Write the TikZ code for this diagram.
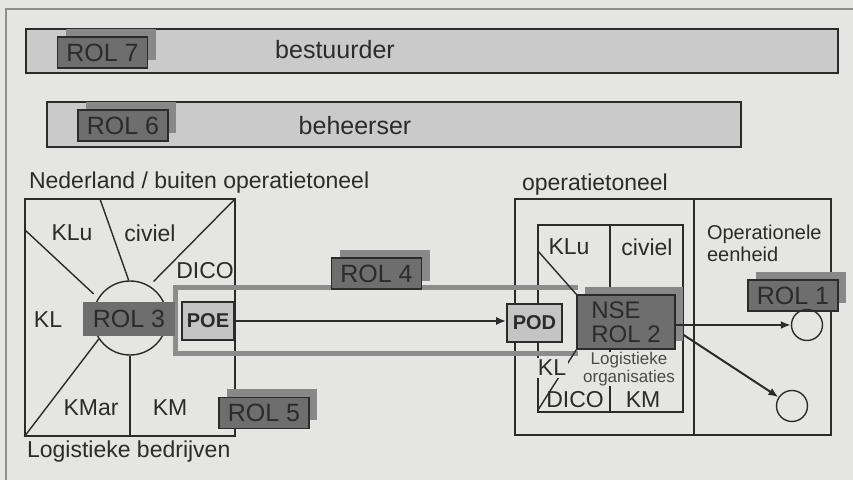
\documentclass[tikz,border=0pt]{standalone}
\usepackage{fontspec}
\setmainfont{Liberation Sans}
\usetikzlibrary{positioning, arrows.meta, calc, shadows}

\definecolor{paper}{HTML}{E5E5E3}
\definecolor{ink}{HTML}{2B2B2B}
\definecolor{framegrey}{HTML}{8E8E8E}
\definecolor{barfill}{HTML}{CACACA}
\definecolor{rolfill}{HTML}{6E6E6E}
\definecolor{rolshade}{HTML}{888888}
\definecolor{bandgrey}{HTML}{8C8C8C}
\definecolor{portfill}{HTML}{C4C4C4}

\begin{document}
\begin{tikzpicture}[
  x=0.5pt, y=-0.5pt,
  font=\fontsize{11.5}{13}\selectfont, text=ink,
  bar/.style={draw=ink, line width=0.8pt, fill=barfill},
  area/.style={draw=ink, line width=0.7pt},
  rol/.style={draw=ink, line width=0.7pt, fill=rolfill, minimum width=45pt, minimum height=15.5pt,
    inner sep=0pt, font=\fontsize{12.5}{14}\selectfont,
    drop shadow={shadow xshift=4pt, shadow yshift=4pt, fill=rolshade, opacity=1}},
  port/.style={draw=ink, line width=0.8pt, fill=portfill, minimum height=19pt, inner sep=0pt,
    font=\fontsize{10}{12}\selectfont\bfseries},
  gap/.style={fill=paper, inner sep=1pt},
  flow/.style={-{Latex[length=5pt, width=4pt]}, line width=1pt, draw=ink},
  band/.style={draw=bandgrey, line width=2.5pt}
]
\useasboundingbox (0,0) rectangle (853,480);
\fill[paper] (0,0) rectangle (853,480);
\draw[framegrey, line width=0.8pt] (6,480) -- (6,9) -- (853,9);

% the two top bars
\draw[bar] (26,29) rectangle (838,73);
\node[rol] (rol7) at (102.5,52.5) {ROL 7};
\node (best) at (335,50) {\fontsize{12.5}{14}\selectfont bestuurder};
\draw[bar] (47,102) rectangle (741,147);
\node[rol] (rol6) at (123,125.5) {ROL 6};
\node (beh) at (355,126) {\fontsize{12.5}{14}\selectfont beheerser};

% Nederland side
\node[anchor=west] (nlhead) at (22,183) {Nederland / buiten operatietoneel};
\node[area, minimum width=105pt, minimum height=118.5pt, inner sep=0pt] (nl) at (130,317.5) {};
\node[area, circle, minimum size=37pt, inner sep=0pt] (hub) at (130,318) {};
\draw[area, shorten >=3pt] (25,230) -- (hub.148);
\draw[area] (100,199) -- (hub.92);
\draw[area, shorten >=3pt] (nl.north east) -- (hub.59);
\draw[area] (nl.south west) -- (hub.214);
\draw[area] (hub.south) -- (hub.south |- nl.south);
\node (klu) at (72,233) {KLu};
\node (civ) at (150,233) {civiel};
\node (dico) at (205,271) {DICO};
\node (kl) at (48,320) {KL};
\node (kmar) at (91,408) {KMar};
\node (km) at (170,408) {KM};
\node[anchor=west] (bedr) at (20,452) {Logistieke bedrijven};

% operatietoneel side
\node[anchor=west] (ophead) at (515,185) {operatietoneel};
\draw[area] (515,199) rectangle (831,435);
\draw[area] (694,199) -- (694,435);
\draw[area] (538,225) rectangle (683,412);
\draw[area] (610,225) -- (610,300);
\draw[area] (610,345) -- (610,412);

% ROL 4 band
\draw[band] (578,288) -- (175,288) -- (175,354) -- (578,354);

\node[fill=rolfill, minimum width=46pt, minimum height=17pt, inner sep=0pt,
  font=\fontsize{12.5}{14}\selectfont] (rol3) at (129,319) {ROL 3};
\node[port, minimum width=26pt] (poe) at (208,321) {POE};
\node[port, minimum width=27.5pt] (pod) at (534.5,323) {POD};
\node[rol] (rol4) at (376.5,273.5) {ROL 4};
\node[rol] (rol5) at (264,413) {ROL 5};
\node[rol, minimum width=49pt, minimum height=27pt, align=left,
  font=\fontsize{12}{12}\selectfont] (nse) at (626,322) {NSE\\ROL 2};

\draw[area] (538,251) -- (nse.north west);
\draw[area] (nse.south west) -- (538,410);
\node (klu2) at (569,247) {KLu};
\node (civ2) at (647,247) {civiel};
\node[gap] (kl2) at (552,368) {KL};
\node (dico2) at (575,400) {DICO};
\node (km2) at (643,400) {KM};
\node[gap, inner sep=0pt, align=center, text=ink!85, font=\fontsize{8.5}{9}\selectfont]
  (logorg) at (629,369) {Logistieke\\organisaties};

% operationele eenheid
\node[anchor=west, align=left, font=\fontsize{10}{11}\selectfont] (opeh) at (700,243) {Operationele\\eenheid};
\node[rol] (rol1) at (793,295.5) {ROL 1};
\node[area, circle, minimum size=15.5pt, inner sep=0pt] (c1) at (807,325) {};
\node[area, circle, minimum size=15.5pt, inner sep=0pt] (c2) at (792,406) {};

% flows
\draw[flow] (poe.east) -- (poe.east -| pod.west);
\draw[flow] (nse.east |- c1.west) -- (c1.west);
\draw[flow] ([shift={(4pt,-6.5pt)}]nse.east) -- (c2);

\end{tikzpicture}
\end{document}
